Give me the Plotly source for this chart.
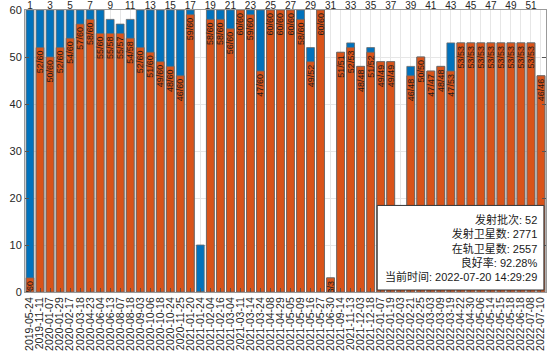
import plotly.graph_objects as go

dates = ["2019-05-24", "2019-11-11", "2020-01-07", "2020-01-29", "2020-02-17", "2020-03-18",
         "2020-04-23", "2020-06-04", "2020-06-13", "2020-08-07", "2020-08-18", "2020-09-03",
         "2020-10-06", "2020-10-18", "2020-10-24", "2020-11-25", "2021-01-20", "2021-01-24",
         "2021-02-04", "2021-02-16", "2021-03-04", "2021-03-11", "2021-03-14", "2021-03-24",
         "2021-04-08", "2021-04-29", "2021-05-05", "2021-05-09", "2021-05-16", "2021-05-27",
         "2021-06-30", "2021-09-14", "2021-11-13", "2021-12-03", "2021-12-18", "2022-01-07",
         "2022-01-19", "2022-02-03", "2022-02-21", "2022-02-25", "2022-03-03", "2022-03-09",
         "2022-03-19", "2022-04-22", "2022-04-30", "2022-05-06", "2022-05-14", "2022-05-15",
         "2022-05-18", "2022-06-18", "2022-07-08", "2022-07-10"]

launched = [60, 60, 60, 60, 60, 60, 60, 60, 58, 57, 58, 60, 60, 60, 60, 60, 60, 10,
            60, 60, 60, 60, 60, 60, 60, 60, 60, 60, 52, 60, 3, 51, 53, 48, 52, 49,
            49, 15, 48, 50, 47, 48, 53, 53, 53, 53, 53, 53, 53, 53, 53, 46]

in_orbit = [3, 52, 50, 52, 54, 57, 58, 55, 55, 55, 54, 52, 51, 49, 48, 46, 59, 0,
            58, 58, 56, 60, 59, 47, 60, 60, 60, 58, 49, 60, 3, 51, 52, 48, 51, 49,
            49, 11, 46, 50, 47, 48, 47, 53, 53, 53, 53, 53, 53, 53, 53, 46]

batch = list(range(1, len(dates) + 1))
top_ticks = list(range(1, len(dates) + 1, 2))

summary_lines = ["发射批次: 52", "发射卫星数: 2771", "在轨卫星数: 2557",
                 "良好率: 92.28%", "当前时间: 2022-07-20 14:29:29"]

BLUE = "#0072BD"
ORANGE = "#D95319"
FONT = "Liberation Sans, Arial, Noto Sans CJK SC"

labels = [f"{o}/{l}" if o > 0 else "" for o, l in zip(in_orbit, launched)]

fig = go.Figure()
fig.add_trace(go.Bar(x=batch, y=launched, marker=dict(color=BLUE, line=dict(color="#6a6a6a", width=0.8)),
                     width=0.78, hoverinfo="skip"))
fig.add_trace(go.Bar(x=batch, y=in_orbit, marker=dict(color=ORANGE, line=dict(color="#6a6a6a", width=0.8)),
                     width=0.78, text=labels, textposition="inside", insidetextanchor="end",
                     textangle=-90, constraintext="none",
                     insidetextfont=dict(size=9, color="#1a1a1a", family=FONT), hoverinfo="skip"))
fig.add_trace(go.Scatter(x=top_ticks, y=[0] * len(top_ticks), xaxis="x2", mode="markers",
                         marker=dict(opacity=0), hoverinfo="skip", showlegend=False))

fig.update_layout(
    width=554, height=356,
    margin=dict(l=25, r=8, t=10, b=64),
    barmode="overlay",
    showlegend=False,
    plot_bgcolor="white", paper_bgcolor="white",
    font=dict(family=FONT, size=11, color="#262626"),
    xaxis=dict(range=[0.5, 52.5], tickmode="array", tickvals=batch, ticktext=dates,
               tickangle=-90, tickfont=dict(size=10.5), ticks="inside", ticklen=4,
               tickcolor="#555", showline=True, linecolor="#9a9a9a", mirror=True,
               showgrid=True, gridcolor="#e6e6e6", zeroline=False, automargin=False),
    xaxis2=dict(range=[0.5, 52.5], overlaying="x", side="top", tickmode="array",
                tickvals=top_ticks, ticktext=[str(t) for t in top_ticks], tickfont=dict(size=10),
                ticks="", ticklabelstandoff=-2, showgrid=False, showline=False,
                zeroline=False, automargin=False),
    yaxis=dict(range=[0, 60], dtick=10, ticks="inside", ticklen=4, tickcolor="#555",
               showline=True, linecolor="#9a9a9a", mirror="ticks", showgrid=True,
               gridcolor="#e6e6e6", zeroline=False, tickfont=dict(size=11), automargin=False),
)

fig.add_shape(type="rect", xref="paper", yref="paper", x0=0.676, x1=0.996, y0=0.007, y1=0.307,
              fillcolor="white", line=dict(color="#333333", width=1), layer="above")
fig.add_annotation(xref="paper", yref="paper", x=0.987, y=0.155, xanchor="right", yanchor="middle",
                   text="<br>".join(summary_lines), align="right", showarrow=False,
                   font=dict(size=11, color="#1a1a1a", family=FONT))

fig.write_html("out.html")
